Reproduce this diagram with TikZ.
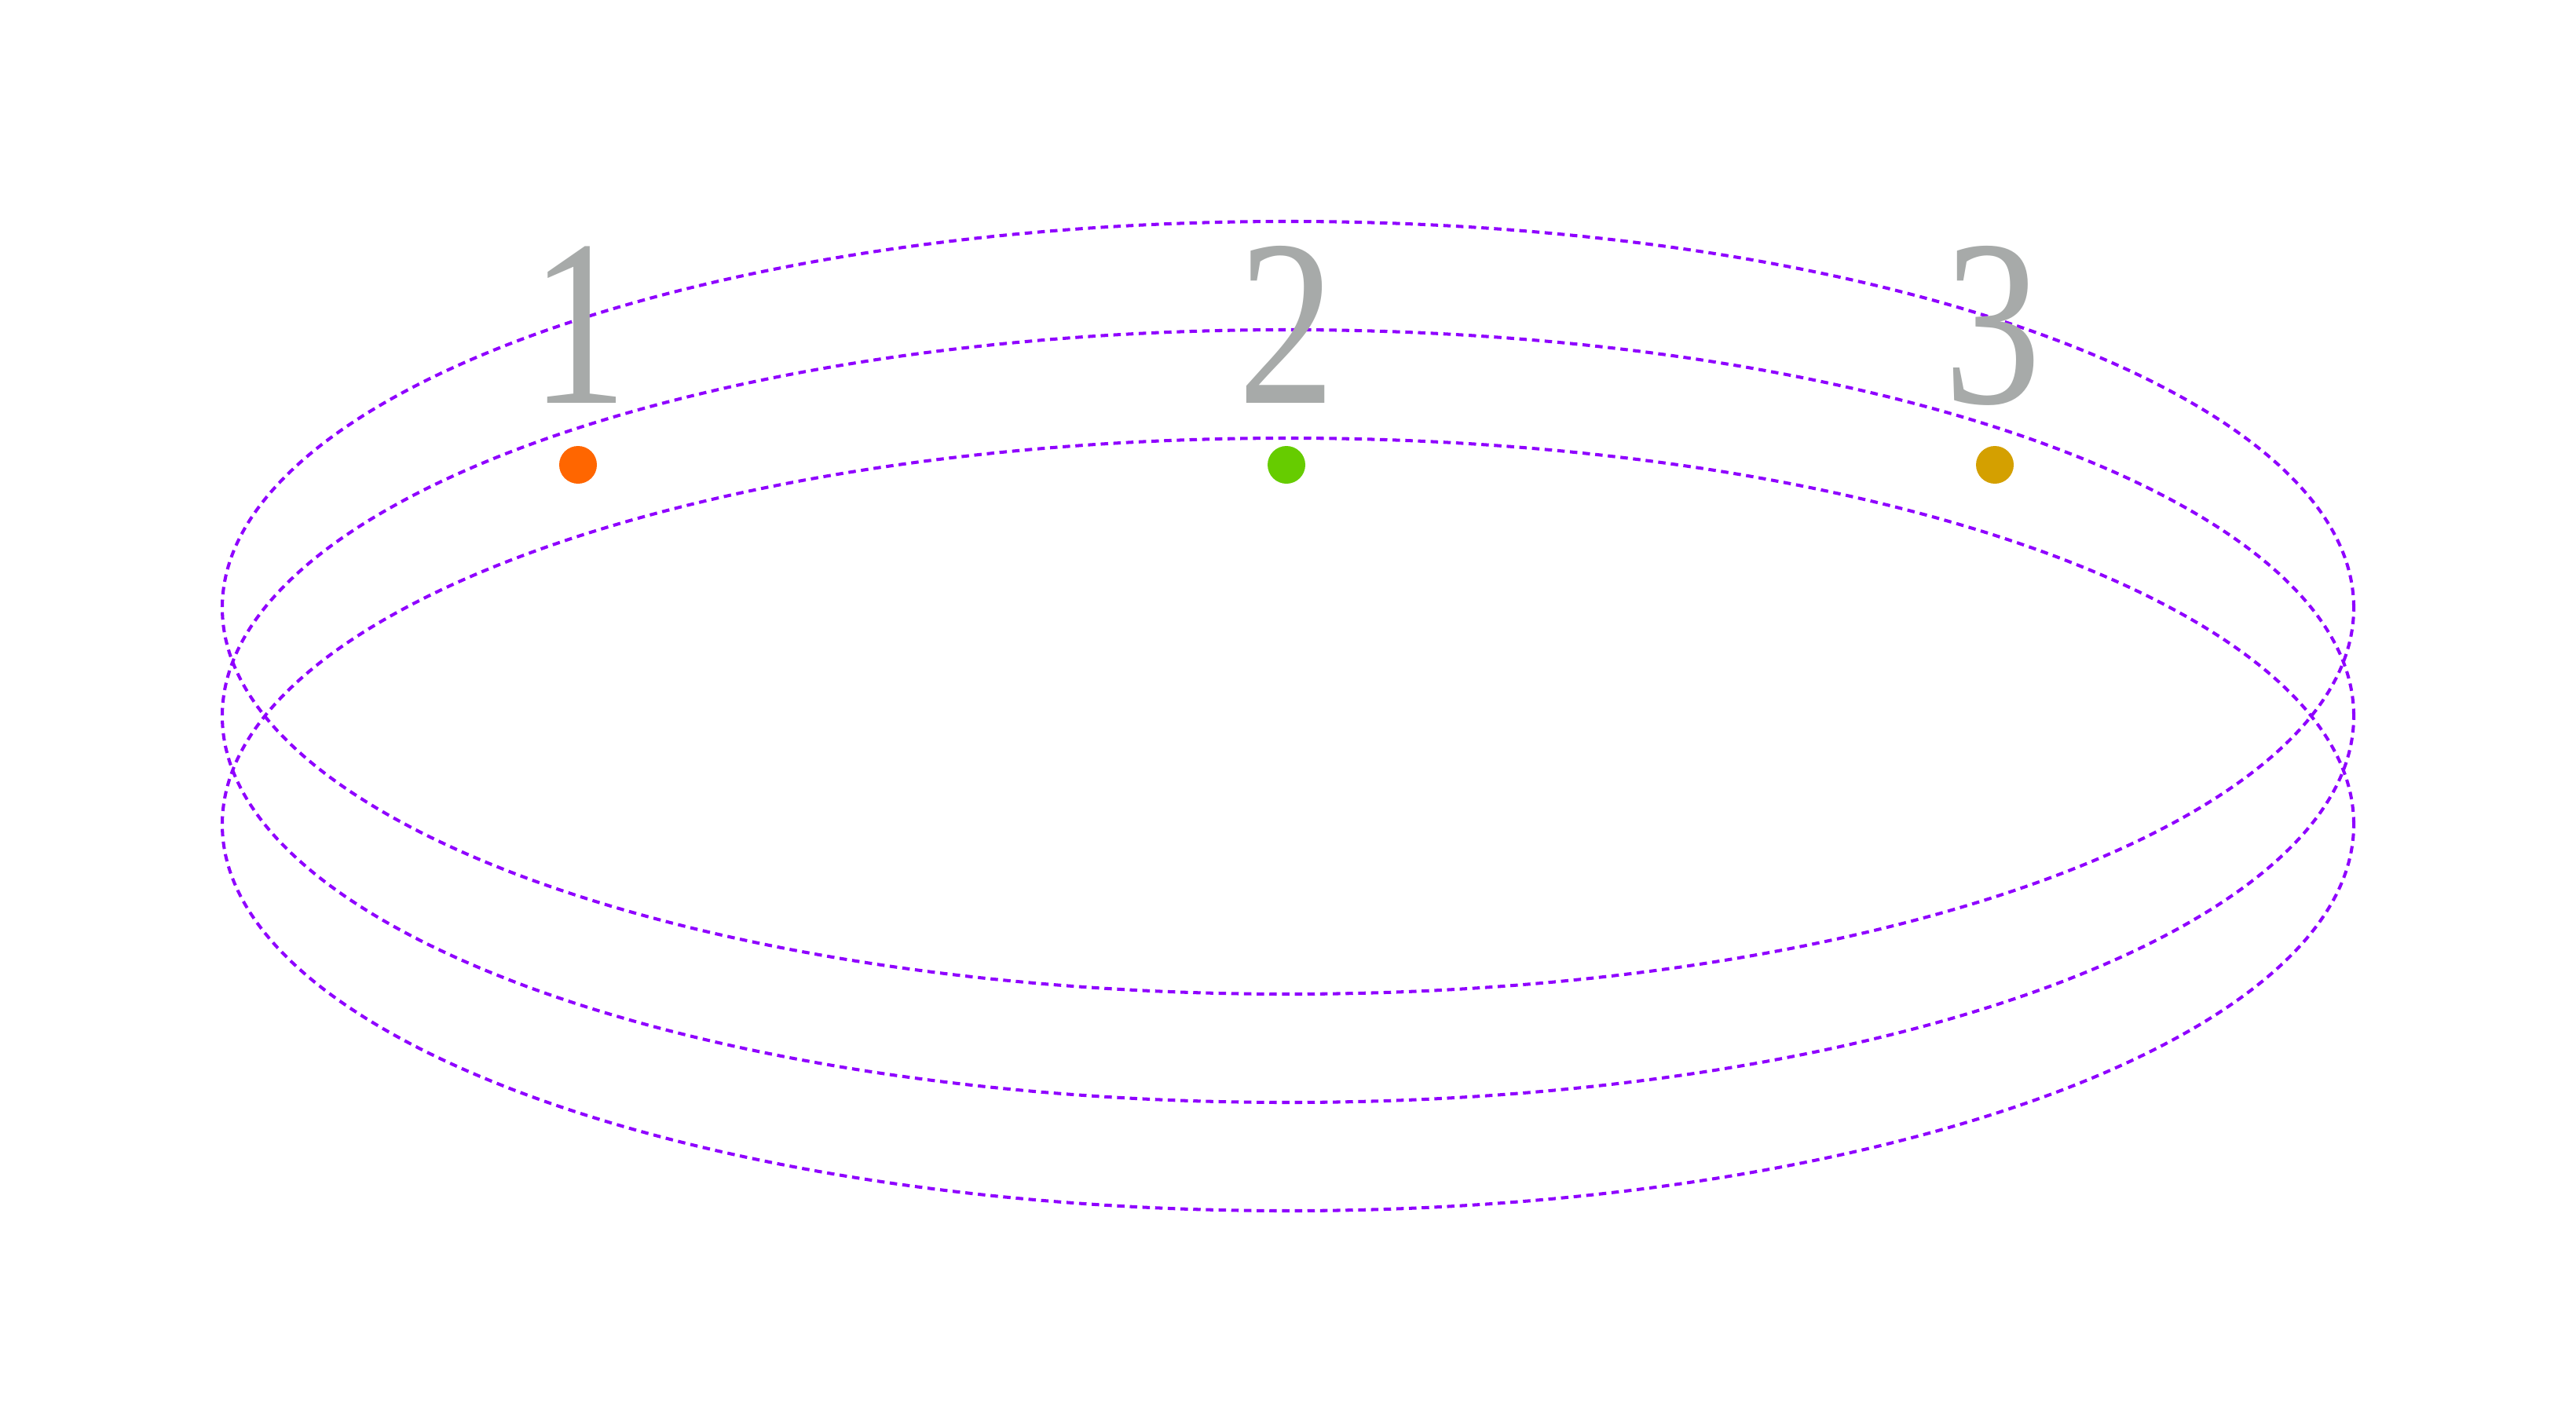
\documentclass[tikz,border=0pt]{standalone}
\usepackage{fontspec}
\setmainfont{Liberation Serif}
\definecolor{ringviolet}{RGB}{143,0,255}
\definecolor{digitgray}{RGB}{167,170,169}
\definecolor{dotorange}{RGB}{255,102,0}
\definecolor{dotgreen}{RGB}{102,204,0}
\definecolor{dotgold}{RGB}{212,160,0}
\tikzset{
  ring/.style={draw=ringviolet, line width=1.15pt, dash pattern=on 2.7pt off 1.9pt},
  digit/.style={text=digitgray, inner sep=0pt, anchor=base, xscale=0.82, transform shape, font=\fontsize{86}{86}\selectfont},
  spot/.style={circle, inner sep=0pt, minimum size=0.48cm}
}
\begin{document}
\begin{tikzpicture}
\useasboundingbox (0,0) rectangle (32.8,-18.1);
\fill[white] (0,0) rectangle (32.8,-18.1);
\draw[ring] (16.40,-7.74) ellipse [x radius=13.57, y radius=4.92];
\draw[ring] (16.40,-9.12) ellipse [x radius=13.57, y radius=4.92];
\draw[ring] (16.40,-10.50) ellipse [x radius=13.57, y radius=4.92];
\node[digit] (d1) at (7.37,-5.13) {1};
\node[digit] (d2) at (16.38,-5.13) {2};
\node[digit] (d3) at (25.37,-5.13) {3};
\node[spot, fill=dotorange] (p1) at (7.36,-5.92) {};
\node[spot, fill=dotgreen] (p2) at (16.38,-5.92) {};
\node[spot, fill=dotgold] (p3) at (25.40,-5.92) {};
\end{tikzpicture}
\end{document}
